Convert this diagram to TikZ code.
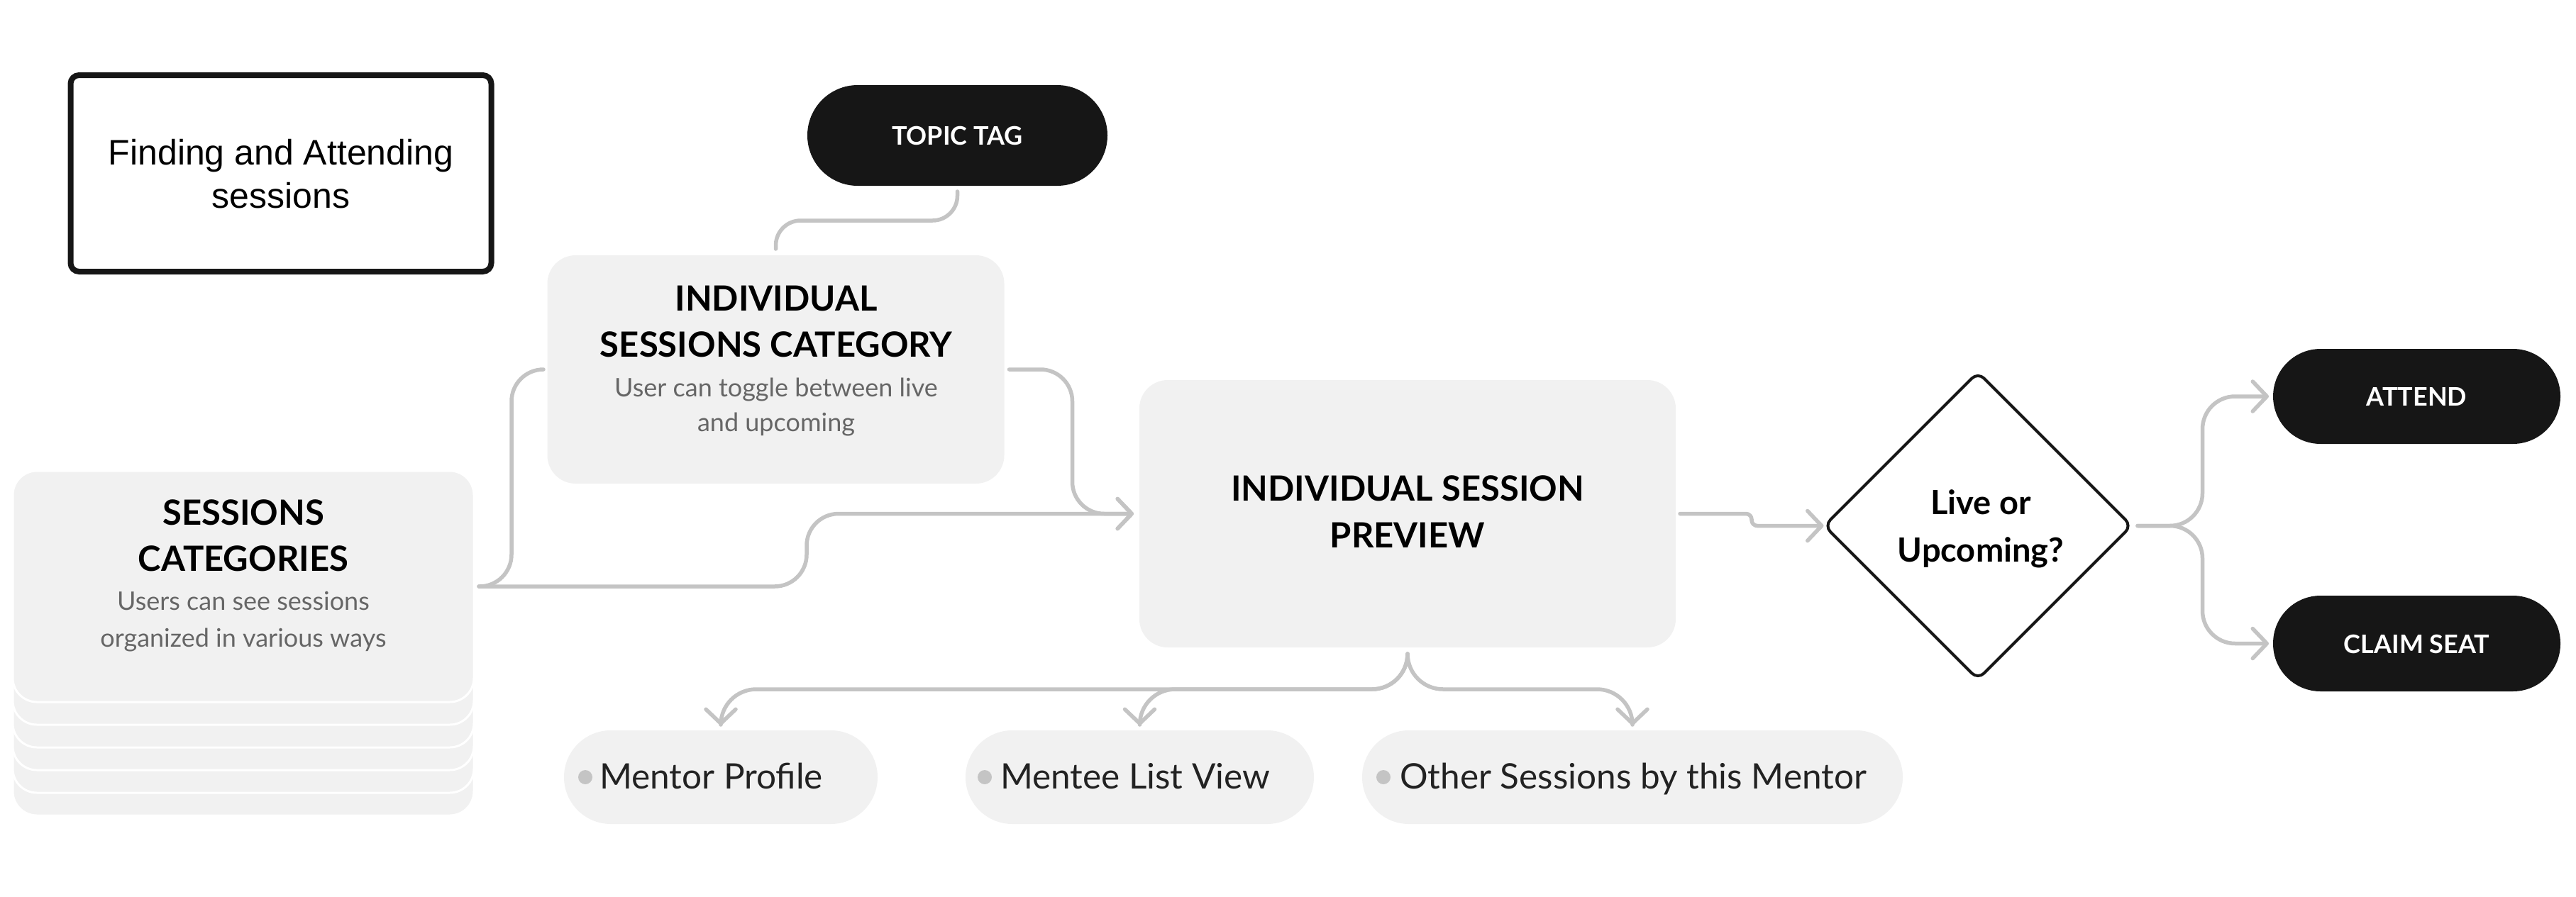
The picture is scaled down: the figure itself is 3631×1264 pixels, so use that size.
\documentclass[tikz,border=0pt]{standalone}
\usepackage{fontspec}
\setmainfont{Lato}
\newfontfamily\titlefam{Liberation Sans}
\usetikzlibrary{shapes.geometric,arrows.meta,calc}
\definecolor{cardgray}{HTML}{F1F1F1}
\definecolor{inkblack}{HTML}{161616}
\definecolor{linegray}{HTML}{C4C4C4}
\definecolor{subgray}{HTML}{666666}
\definecolor{pilltext}{HTML}{222222}
\newcommand\ttlfont{\titlefam\fontsize{50pt}{58pt}\selectfont}
\newcommand\hdfont{\bfseries\fontsize{49pt}{58pt}\selectfont}
\newcommand\sbfont{\fontsize{36pt}{42pt}\selectfont}
\newcommand\pillfont{\fontsize{49.5pt}{58pt}\selectfont}
\newcommand\tagfont{\bfseries\fontsize{36pt}{42pt}\selectfont}
\newcommand\decfont{\bfseries\fontsize{47pt}{56pt}\selectfont}
\begin{document}
\begin{tikzpicture}[x=1pt,y=-1pt,
  every node/.style={outer sep=0pt,inner sep=0pt},
  card/.style={fill=cardgray,rounded corners=40pt},
  stackcard/.style={fill=cardgray,draw=white,line width=3pt,rounded corners=34pt,minimum width=650pt,minimum height=326pt},
  blackpill/.style={fill=inkblack,text=white,font=\tagfont},
  greypill/.style={fill=cardgray,rounded corners=66pt,minimum height=132pt},
  dot/.style={circle,fill=linegray,minimum size=20pt},
  head/.style={anchor=base,font=\hdfont,text=black},
  sub/.style={anchor=base,font=\sbfont,text=subgray},
  plabel/.style={anchor=base west,font=\pillfont,text=pilltext},
  conn/.style={draw=linegray,line width=5.5pt,line cap=round,line join=round},
  arr/.style={conn,-{Straight Barb[length=20pt,width=42pt,round]}}
]
\fill[white] (0,0) rectangle (3631,1264);
\useasboundingbox (0,0) rectangle (3631,1264);

% title
\node[draw=inkblack,line width=8pt,rounded corners=12pt,minimum width=593pt,minimum height=277pt] (title) at (396,244.5) {};
\node[anchor=base,font=\ttlfont] (titleA) at (396,232) {Finding and Attending};
\node[anchor=base,font=\ttlfont] (titleB) at (396,293) {sessions};

% sessions categories stack
\foreach \k in {5,4,3,2,1}{
  \node[stackcard] (stack\k) at (343,{827+32*\k}) {};
}
\node[stackcard] (sess) at (343,827) {};
\node[head] (sessH1) at (343,740) {SESSIONS};
\node[head] (sessH2) at (343,805) {CATEGORIES};
\node[sub] (sessS1) at (343,860) {Users can see sessions};
\node[sub] (sessS2) at (343,912) {organized in various ways};

% individual sessions category
\node[card,minimum width=644pt,minimum height=322pt] (cat) at (1093.5,521) {};
\node[head] (catH1) at (1094,438) {INDIVIDUAL};
\node[head] (catH2) at (1094,503) {SESSIONS CATEGORY};
\node[sub] (catS1) at (1094,559) {User can toggle between live};
\node[sub] (catS2) at (1094,608) {and upcoming};

% topic tag
\node[blackpill,rounded corners=71pt,minimum width=423pt,minimum height=142pt] (tag) at (1349.5,191) {};
\node[anchor=base,font=\tagfont,text=white] (tagT) at (1349.5,204) {TOPIC TAG};

% preview
\node[card,minimum width=756pt,minimum height=377pt] (prev) at (1984,724.5) {};
\node[head] (prevH1) at (1984,706) {INDIVIDUAL SESSION};
\node[head] (prevH2) at (1984,772) {PREVIEW};

% decision
\node[diamond,aspect=1,draw=inkblack,line width=4pt,rounded corners=12pt,minimum width=433pt,minimum height=433pt] (dec) at (2788,741.5) {};
\node[anchor=base,font=\decfont] (decT1) at (2792,725) {Live or};
\node[anchor=base,font=\decfont] (decT2) at (2792,792) {Upcoming?};

% outcomes
\node[blackpill,rounded corners=67pt,minimum width=405pt,minimum height=134pt] (att) at (3406.5,559) {};
\node[anchor=base,font=\tagfont,text=white] (attT) at (3406.5,572) {ATTEND};
\node[blackpill,rounded corners=67pt,minimum width=405pt,minimum height=135pt] (claim) at (3406.5,907.5) {};
\node[anchor=base,font=\tagfont,text=white] (claimT) at (3406.5,921) {CLAIM SEAT};

% bottom pills
\node[greypill,minimum width=442pt] (mp) at (1016,1096) {};
\node[dot] (mpdot) at (825,1096) {};
\node[plabel] (mpT) at (845,1112) {Mentor Profile};
\node[greypill,minimum width=491pt] (ml) at (1606.5,1096) {};
\node[dot] (mldot) at (1388,1096) {};
\node[plabel] (mlT) at (1410,1112) {Mentee List View};
\node[greypill,minimum width=762pt] (os) at (2301,1096) {};
\node[dot] (osdot) at (1950,1096) {};
\node[plabel] (osT) at (1973,1112) {Other Sessions by this Mentor};

% connectors
\draw[conn,rounded corners=35pt,shorten <=8pt,shorten >=9pt] (tag.south) -- ++(0,49) -| (cat.north);
\draw[conn,rounded corners=45pt,shorten <=7pt,shorten >=8pt] (sess.east) -- ++(53,0) |- (cat.west);
\draw[arr,rounded corners=45pt,shorten <=7pt,shorten >=8pt] (sess.east) -- ++(469,0) |- (prev.west);
\draw[arr,rounded corners=45pt,shorten <=7pt,shorten >=8pt] (cat.east) -- ++(96,0) |- (prev.west);
\draw[arr,rounded corners=8pt,shorten <=6pt,shorten >=1pt] (prev.east) -- ++(107,0) -- ++(0,17) -- (dec.west);
\draw[arr,rounded corners=46pt,shorten <=8.5pt,shorten >=6pt] (dec.east) -- ++(100,0) |- (att.west);
\draw[arr,rounded corners=46pt,shorten <=8.5pt,shorten >=6pt] (dec.east) -- ++(100,0) |- (claim.west);
\draw[arr,rounded corners=50pt,shorten <=9pt,shorten >=7pt] (prev.south) -- ++(0,59) -| (mp.north);
\draw[arr,rounded corners=50pt,shorten <=9pt,shorten >=7pt] (prev.south) -- ++(0,59) -| (ml.north);
\draw[arr,rounded corners=50pt,shorten <=9pt,shorten >=7pt] (prev.south) -- ++(0,59) -| (os.north);
\end{tikzpicture}
\end{document}
